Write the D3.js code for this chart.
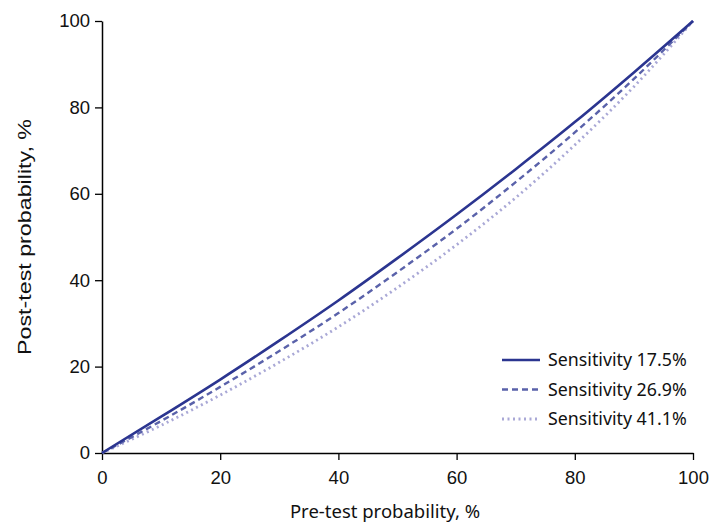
<!DOCTYPE html>
<html>
<head>
<meta charset="utf-8">
<script src="https://cdn.jsdelivr.net/npm/d3@7"></script>
<style>
  html, body { margin: 0; padding: 0; background: #fff; }
  svg { display: block; }
</style>
</head>
<body>
<svg id="chart" width="712" height="523"></svg>
<script>
// Data
const preTest = [0, 10, 20, 30, 40, 50, 60, 70, 80, 90, 100];
const sens175 = [0, 8.4, 17.0, 26.0, 35.3, 45.1, 55.2, 65.7, 76.6, 88.1, 100];
const sens269 = [0, 7.4, 15.3, 23.6, 32.4, 41.9, 51.9, 62.7, 74.2, 86.6, 100];
const sens411 = [0, 6.4, 13.4, 21.0, 29.2, 38.3, 48.2, 59.1, 71.3, 84.8, 100];
const seriesNames = ["Sensitivity 17.5%", "Sensitivity 26.9%", "Sensitivity 41.1%"];
const ticks = [0, 20, 40, 60, 80, 100];

const series = [
  { name: seriesNames[0], values: sens175, color: "#2b3590", dash: null, width: 2.6 },
  { name: seriesNames[1], values: sens269, color: "#5a62aa", dash: "6,4", width: 2.4 },
  { name: seriesNames[2], values: sens411, color: "#a9a8d6", dash: "2,3.5", width: 2.8 }
];

const svg = d3.select("#chart");
const margin = { left: 102, right: 19, top: 21, bottom: 70 };
const W = 712, H = 523;

const x = d3.scaleLinear().domain([0, 100]).range([margin.left, W - margin.right]);
const y = d3.scaleLinear().domain([0, 100]).range([H - margin.bottom, margin.top]);

// Axes
const xAxis = svg.append("g")
  .attr("transform", `translate(0,${y(0)})`)
  .call(d3.axisBottom(x).tickValues(ticks).tickSize(7).tickPadding(11).tickSizeOuter(0));
const yAxis = svg.append("g")
  .attr("transform", `translate(${x(0)},0)`)
  .call(d3.axisLeft(y).tickValues(ticks).tickSize(7).tickPadding(5).tickSizeOuter(0));

[xAxis, yAxis].forEach(g => {
  g.selectAll(".domain").attr("stroke", "#000").attr("stroke-width", 1.5);
  g.selectAll(".tick line").attr("stroke", "#000").attr("stroke-width", 1.3);
  g.selectAll(".tick text")
    .attr("fill", "#111")
    .style("font-family", "'Liberation Sans', Arial, sans-serif")
    .style("font-size", "18.5px");
});

// Axis titles
svg.append("text")
  .attr("x", 385).attr("y", 518)
  .attr("text-anchor", "middle")
  .style("font-family", "'Noto Sans', sans-serif")
  .style("font-size", "18.5px")
  .attr("fill", "#111")
  .text("Pre-test probability, %");

svg.append("text")
  .attr("transform", `translate(31,${y(50)}) rotate(-90)`)
  .attr("text-anchor", "middle")
  .attr("textLength", 236)
  .attr("lengthAdjust", "spacingAndGlyphs")
  .style("font-family", "'Liberation Sans', Arial, sans-serif")
  .style("font-size", "18.5px")
  .attr("fill", "#111")
  .text("Post-test probability, %");

// Lines
const line = d3.line()
  .x((d, i) => x(preTest[i]))
  .y(d => y(d))
  .curve(d3.curveMonotoneX);

const plot = svg.append("g");
series.slice().reverse().forEach(s => {
  plot.append("path")
    .datum(s.values)
    .attr("d", line)
    .attr("fill", "none")
    .attr("stroke", s.color)
    .attr("stroke-width", s.width)
    .attr("stroke-dasharray", s.dash);
});

// Legend
const legend = svg.append("g");
series.forEach((s, i) => {
  const ly = 360 + i * 29.5;
  legend.append("line")
    .attr("x1", 502).attr("x2", 540)
    .attr("y1", ly).attr("y2", ly)
    .attr("stroke", s.color)
    .attr("stroke-width", s.width)
    .attr("stroke-dasharray", s.dash);
  legend.append("text")
    .attr("x", 548).attr("y", ly)
    .attr("dy", "0.35em")
    .style("font-family", "'Noto Sans', sans-serif")
    .style("font-size", "17.8px")
    .attr("fill", "#111")
    .text(s.name);
});
</script>
</body>
</html>
